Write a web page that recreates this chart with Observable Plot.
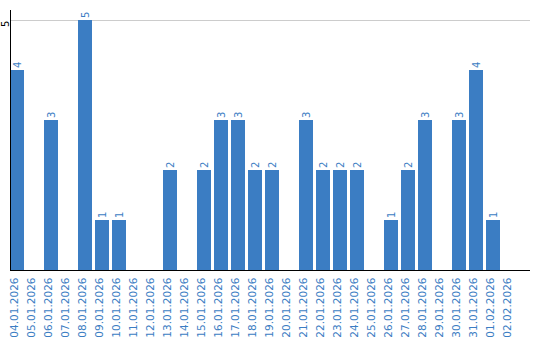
<!DOCTYPE html>
<html>
<head>
<meta charset="utf-8">
<script src="https://cdn.jsdelivr.net/npm/d3@7"></script>
<script src="https://cdn.jsdelivr.net/npm/@observablehq/plot@0.6"></script>
<style>
  html, body { margin: 0; padding: 0; background: #fff; }
</style>
</head>
<body>
<div id="chart"></div>
<script>
const dates = ["04.01.2026","05.01.2026","06.01.2026","07.01.2026","08.01.2026","09.01.2026","10.01.2026","11.01.2026","12.01.2026","13.01.2026","14.01.2026","15.01.2026","16.01.2026","17.01.2026","18.01.2026","19.01.2026","20.01.2026","21.01.2026","22.01.2026","23.01.2026","24.01.2026","25.01.2026","26.01.2026","27.01.2026","28.01.2026","29.01.2026","30.01.2026","31.01.2026","01.02.2026","02.02.2026"];
const counts = [4,0,3,0,5,1,1,0,0,2,0,2,3,3,2,2,0,3,2,2,2,0,1,2,3,0,3,4,1,0];
const yTicks = [5];

const data = dates.map((d, i) => ({date: d, value: counts[i]}));
const nonZero = data.filter(d => d.value > 0);
const blue = "#3b7dc3";

const chart = Plot.plot({
  width: 540,
  height: 340,
  marginLeft: 10,
  marginRight: 10,
  marginTop: 10,
  marginBottom: 70,
  style: {fontFamily: "DejaVu Sans", fontSize: "10px", background: "#fff"},
  x: {type: "band", domain: dates, range: [10, 517], paddingInner: 3/17, paddingOuter: 0, axis: null},
  y: {domain: [0, 5.2], axis: null},
  marks: [
    Plot.ruleY(yTicks, {stroke: "#cccccc"}),
    Plot.barY(nonZero, {x: "date", y: "value", fill: blue}),
    Plot.text(nonZero, {x: "date", y: "value", text: d => String(d.value), rotate: -90, textAnchor: "start", dy: -2.5, fill: blue, fontSize: 10}),
    Plot.text(dates, {x: d => d, frameAnchor: "bottom", text: d => d, rotate: -90, textAnchor: "end", dy: 7, fill: blue, fontSize: 10.5}),
    Plot.text(yTicks, {y: d => d, frameAnchor: "left", text: d => String(d), rotate: -90, textAnchor: "end", dx: -5, fill: "#000", fontSize: 10}),
    Plot.ruleY([0], {stroke: "#000"}),
    Plot.frame({anchor: "left", stroke: "#000"})
  ]
});
document.getElementById("chart").appendChild(chart);
</script>
</body>
</html>
